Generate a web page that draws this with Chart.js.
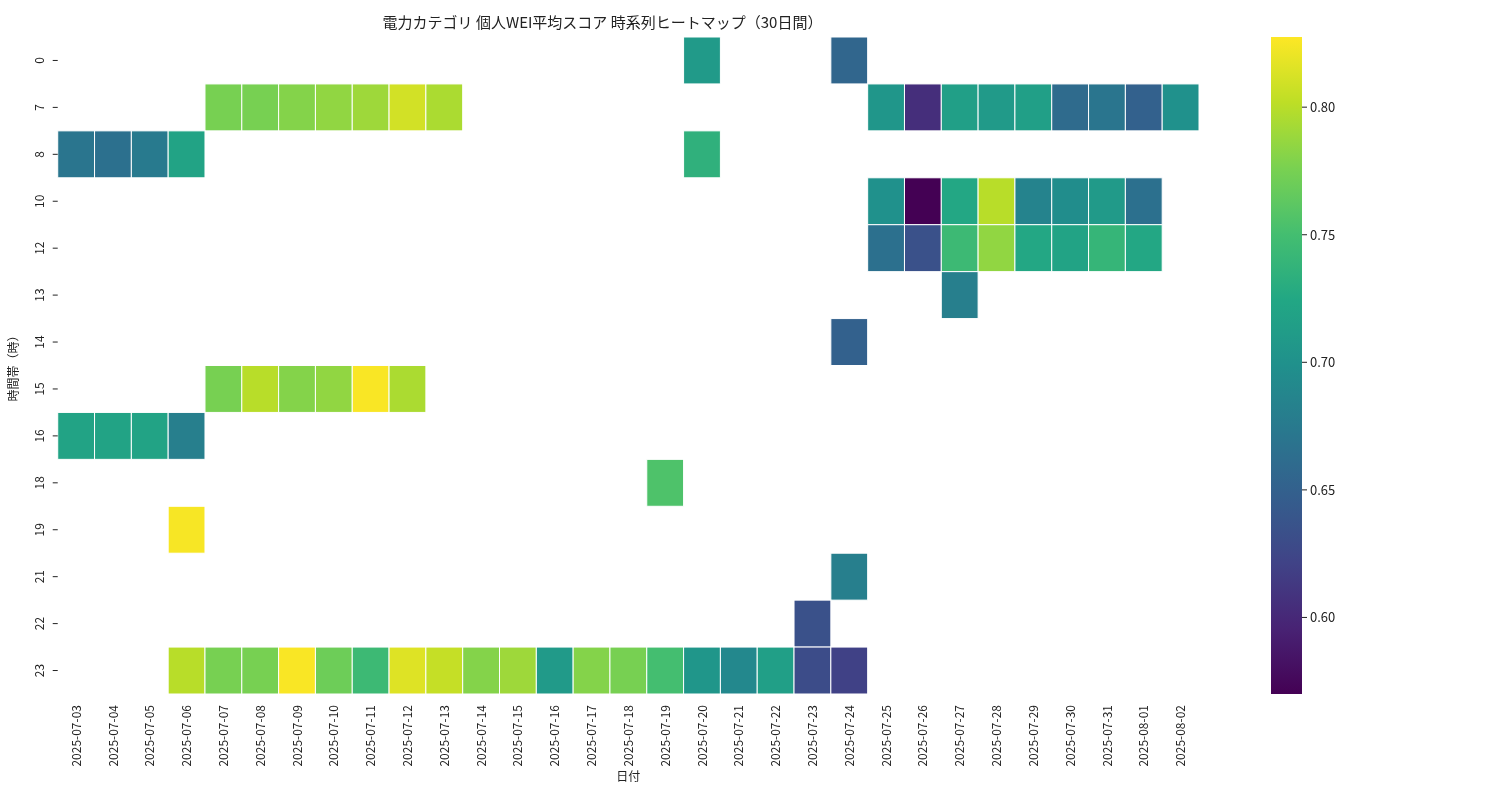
<!DOCTYPE html>
<html><head><meta charset="utf-8">
<script src="https://cdn.jsdelivr.net/npm/chart.js@4"></script>
<style>html,body{margin:0;background:#fff}#w{width:1500px;height:800px}</style>
</head><body><div id="w"><canvas id="c"></canvas></div>
<script>
const dates = ["2025-07-03","2025-07-04","2025-07-05","2025-07-06","2025-07-07","2025-07-08","2025-07-09","2025-07-10","2025-07-11","2025-07-12","2025-07-13","2025-07-14","2025-07-15","2025-07-16","2025-07-17","2025-07-18","2025-07-19","2025-07-20","2025-07-21","2025-07-22","2025-07-23","2025-07-24","2025-07-25","2025-07-26","2025-07-27","2025-07-28","2025-07-29","2025-07-30","2025-07-31","2025-08-01","2025-08-02"];
const hours = ["0","7","8","10","12","13","14","15","16","18","19","21","22","23"];
// each row: [dateIndex, value] pairs
const row0  = [[17,0.71],[21,0.655]];
const row7  = [[4,0.775],[5,0.775],[6,0.78],[7,0.785],[8,0.79],[9,0.81],[10,0.795],[22,0.705],[23,0.605],[24,0.715],[25,0.71],[26,0.715],[27,0.66],[28,0.67],[29,0.65],[30,0.70]];
const row8  = [[0,0.67],[1,0.665],[2,0.675],[3,0.72],[17,0.735]];
const row10 = [[22,0.70],[23,0.57],[24,0.725],[25,0.80],[26,0.685],[27,0.695],[28,0.71],[29,0.665]];
const row12 = [[22,0.665],[23,0.635],[24,0.745],[25,0.785],[26,0.725],[27,0.72],[28,0.74],[29,0.725]];
const row13 = [[24,0.68]];
const row14 = [[21,0.65]];
const row15 = [[4,0.775],[5,0.80],[6,0.78],[7,0.785],[8,0.826],[9,0.795]];
const row16 = [[0,0.72],[1,0.72],[2,0.72],[3,0.68]];
const row18 = [[16,0.755]];
const row19 = [[3,0.825]];
const row21 = [[21,0.68]];
const row22 = [[20,0.635]];
const row23 = [[3,0.80],[4,0.775],[5,0.775],[6,0.826],[7,0.77],[8,0.745],[9,0.815],[10,0.805],[11,0.78],[12,0.79],[13,0.71],[14,0.78],[15,0.775],[16,0.75],[17,0.705],[18,0.69],[19,0.715],[20,0.63],[21,0.62]];
const rows = [row0,row7,row8,row10,row12,row13,row14,row15,row16,row18,row19,row21,row22,row23];
const vmin = 0.570, vmax = 0.8275;
const cbTicks = [0.60,0.65,0.70,0.75,0.80];

const VIR = [[68,1,84],[72,35,116],[64,67,135],[52,94,141],[41,120,142],[32,144,140],[34,167,132],[68,190,112],[121,209,81],[189,222,38],[253,231,37]];
function viridis(t){t=Math.max(0,Math.min(1,t));const p=t*(VIR.length-1);const i=Math.min(Math.floor(p),VIR.length-2);const f=p-i;
 const c=VIR[i].map((v,k)=>Math.round(v+(VIR[i+1][k]-v)*f));return `rgb(${c[0]},${c[1]},${c[2]})`;}

const points=[];
rows.forEach((r,ri)=>r.forEach(([di,v])=>points.push({x:dates[di],y:hours[ri],v})));
const FONT='"Noto Sans CJK JP","DejaVu Sans",sans-serif';

const heat={id:'heat',
 afterDatasetsDraw(chart){
  const {ctx,chartArea:a,scales:{x,y}}=chart;
  const cw=(a.right-a.left)/dates.length, ch=(a.bottom-a.top)/hours.length;
  ctx.save();
  points.forEach(p=>{
   const cx=x.getPixelForValue(dates.indexOf(p.x)), cy=y.getPixelForValue(hours.indexOf(p.y));
   ctx.fillStyle=viridis((p.v-vmin)/(vmax-vmin));
   ctx.fillRect(cx-cw/2,cy-ch/2,cw,ch);
   ctx.strokeStyle='#fff';ctx.lineWidth=1;ctx.strokeRect(cx-cw/2,cy-ch/2,cw,ch);
  });
  ctx.fillStyle='#222';ctx.font='12px '+FONT;ctx.textAlign='center';ctx.textBaseline='middle';
  hours.forEach((h,i)=>{const cy=y.getPixelForValue(i);
   ctx.strokeStyle='#222';ctx.beginPath();ctx.moveTo(a.left-5,cy);ctx.lineTo(a.left,cy);ctx.stroke();
   ctx.save();ctx.translate(a.left-18,cy);ctx.rotate(-Math.PI/2);ctx.fillText(h,0,0);ctx.restore();});
  const bx=1271,bw=31,bt=a.top,bb=a.bottom;
  const g=ctx.createLinearGradient(0,bb,0,bt);
  for(let k=0;k<=20;k++)g.addColorStop(k/20,viridis(k/20));
  ctx.fillStyle=g;ctx.fillRect(bx,bt,bw,bb-bt);
  ctx.fillStyle='#222';ctx.textAlign='left';ctx.font='13px '+FONT;
  cbTicks.forEach(t=>{const py=bb-(t-vmin)/(vmax-vmin)*(bb-bt);
   ctx.beginPath();ctx.moveTo(bx+bw,py);ctx.lineTo(bx+bw+5,py);ctx.stroke();
   ctx.fillText(t.toFixed(2),bx+bw+8,py);});
  ctx.restore();
 }};

new Chart(document.getElementById('c'),{
 type:'scatter',
 data:{datasets:[{data:[],pointRadius:0}]},
 options:{responsive:true,maintainAspectRatio:false,animation:false,
  layout:{padding:{left:6,right:301,top:5,bottom:16}},
  plugins:{legend:{display:false},tooltip:{enabled:false},
   title:{display:true,text:'電力カテゴリ 個人WEI平均スコア 時系列ヒートマップ（30日間）',font:{family:FONT,size:15,weight:'normal'},color:'#222',padding:{top:8,bottom:6}}},
  scales:{
   x:{type:'category',labels:dates,offset:true,grid:{display:false},border:{display:false},
      ticks:{font:{family:FONT,size:12},color:'#222',maxRotation:90,minRotation:90,autoSkip:false},
      title:{display:true,text:'日付',font:{family:FONT,size:12},color:'#222',padding:0}},
   y:{type:'category',labels:hours,offset:true,grid:{display:false},border:{display:false},
      ticks:{display:true,color:'rgba(0,0,0,0)',font:{family:FONT,size:12},padding:8},
      title:{display:true,text:'時間帯（時）',font:{family:FONT,size:12},color:'#222',padding:0}}
  }},
 plugins:[heat]});
</script></body></html>
